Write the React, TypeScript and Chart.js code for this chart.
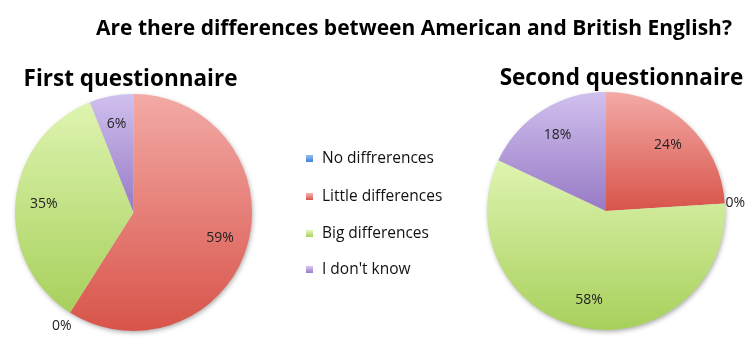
import React, { useEffect, useRef } from "react";
import { Chart, registerables } from "chart.js";

Chart.register(...registerables);

const mainTitle = "Are there differences between American and British English?";
const pieTitles = ["First questionnaire", "Second questionnaire"];
const categories = ["No diffrerences", "Little differences", "Big differences", "I don't know"];
const firstValues = [0, 59, 35, 6];
const secondValues = [0, 24, 58, 18];
// order in which the categories are drawn clockwise from 12 o'clock
const sliceOrder = [1, 0, 2, 3];
const lightColors = ["#8cb9ef", "#f3aaa6", "#def4b0", "#d0c0ee"];
const darkColors = ["#3f7fd4", "#d8544a", "#a8d05c", "#977ac5"];

const W = 747;
const H = 356;
const FONT = "'Open Sans', Lato, sans-serif";

function sliceGradient(ctx: any, idx: number) {
  const chart = ctx.chart;
  const area = chart.chartArea;
  const catIndex = sliceOrder[idx];
  if (!area) return darkColors[catIndex];
  const data: number[] = chart.data.datasets[0].data as number[];
  const total = data.reduce((a, b) => a + b, 0);
  const cx = (area.left + area.right) / 2;
  const cy = (area.top + area.bottom) / 2;
  const r = Math.min(area.right - area.left, area.bottom - area.top) / 2;
  let start = 0;
  for (let i = 0; i < idx; i++) start += (data[i] / total) * 360;
  const end = start + (data[idx] / total) * 360;
  const ys = [cy, cy - r * Math.cos((start * Math.PI) / 180), cy - r * Math.cos((end * Math.PI) / 180)];
  if (start <= 180 && end >= 180) ys.push(cy + r);
  if (end >= 359.9 || start <= 0.1) ys.push(cy - r);
  let y0 = Math.min(...ys);
  let y1 = Math.max(...ys);
  if (y1 - y0 < 1) y1 = y0 + 1;
  const g = chart.ctx.createLinearGradient(0, y0, 0, y1);
  g.addColorStop(0, lightColors[catIndex]);
  g.addColorStop(1, darkColors[catIndex]);
  return g;
}

const shadowPlugin = {
  id: "pieShadow",
  beforeDatasetsDraw(chart: any) {
    const meta = chart.getDatasetMeta(0);
    const arc = meta.data[0];
    if (!arc) return;
    const { x, y, outerRadius } = arc.getProps(["x", "y", "outerRadius"], true);
    const c = chart.ctx;
    c.save();
    c.shadowColor = "rgba(0,0,0,0.35)";
    c.shadowBlur = 5;
    c.shadowOffsetX = 1;
    c.shadowOffsetY = 2;
    c.fillStyle = "#ddd";
    c.beginPath();
    c.arc(x, y, outerRadius - 0.5, 0, Math.PI * 2);
    c.fill();
    c.restore();
  },
};

const labelPlugin = {
  id: "pieLabels",
  afterDatasetsDraw(chart: any) {
    const c = chart.ctx;
    const meta = chart.getDatasetMeta(0);
    const data: number[] = chart.data.datasets[0].data as number[];
    c.save();
    c.font = `14px ${FONT}`;
    c.fillStyle = "#222";
    c.textAlign = "center";
    c.textBaseline = "middle";
    meta.data.forEach((el: any, i: number) => {
      const p = el.getProps(["x", "y", "startAngle", "endAngle", "outerRadius"], true);
      const mid = (p.startAngle + p.endAngle) / 2;
      const text = `${data[i]}%`;
      const dx = Math.cos(mid);
      const dy = Math.sin(mid);
      let dist;
      if (data[i] === 0) {
        const w = c.measureText(text).width;
        dist = p.outerRadius + Math.abs(dx) * (w / 2) + Math.abs(dy) * 12;
      } else {
        dist = p.outerRadius * 0.76;
      }
      c.fillText(text, p.x + dx * dist, p.y + dy * dist);
    });
    c.restore();
  },
};

const textPlugin = {
  id: "pageText",
  afterDraw(chart: any) {
    const c = chart.ctx;
    c.save();
    c.fillStyle = "#000";
    c.textAlign = "center";
    c.textBaseline = "alphabetic";
    c.font = `bold 21px ${FONT}`;
    c.fillText(mainTitle, 414, 35);
    c.font = `bold 22.5px ${FONT}`;
    c.fillText(pieTitles[0], 130.5, 86);
    c.fillText(pieTitles[1], 621.5, 85);
    // legend
    const rows = [159, 197, 234, 270];
    c.textAlign = "left";
    c.textBaseline = "middle";
    c.font = `15.5px ${FONT}`;
    categories.forEach((cat, i) => {
      const y = rows[i];
      const g = c.createLinearGradient(0, y - 3, 0, y + 3);
      g.addColorStop(0, lightColors[i]);
      g.addColorStop(1, darkColors[i]);
      c.fillStyle = g;
      c.fillRect(306, y - 4, 7, 7);
      c.fillStyle = "#111";
      c.fillText(cat, 322, y);
    });
    c.restore();
  },
};

function makeConfig(values: number[], padding: any, extraPlugins: any[]) {
  const ordered = sliceOrder.map((i) => values[i]);
  return {
    type: "pie" as const,
    data: {
      labels: sliceOrder.map((i) => categories[i]),
      datasets: [
        {
          data: ordered,
          backgroundColor: (ctx: any) => sliceGradient(ctx, ctx.dataIndex),
          borderWidth: 0,
          hoverOffset: 0,
          offset: 0,
        },
      ],
    },
    options: {
      responsive: false,
      animation: false as const,
      layout: { padding },
      plugins: {
        legend: { display: false },
        tooltip: { enabled: false },
        title: { display: false },
      },
      events: [],
    },
    plugins: [shadowPlugin, labelPlugin, ...extraPlugins],
  };
}

export default function App() {
  const ref1 = useRef<HTMLCanvasElement>(null);
  const ref2 = useRef<HTMLCanvasElement>(null);

  useEffect(() => {
    document.body.style.margin = "0";
    document.body.style.background = "#fff";
    const c1 = new Chart(
      ref1.current!,
      makeConfig(firstValues, { left: 15, top: 94, right: W - 252, bottom: H - 331 }, [textPlugin]) as any
    );
    const c2 = new Chart(
      ref2.current!,
      makeConfig(secondValues, { left: 487, top: 92, right: W - 725, bottom: H - 330 }, []) as any
    );
    return () => {
      c1.destroy();
      c2.destroy();
    };
  }, []);

  return (
    <div style={{ position: "relative", width: W, height: H, background: "#fff" }}>
      <canvas ref={ref1} width={W} height={H} style={{ position: "absolute", left: 0, top: 0 }} />
      <canvas ref={ref2} width={W} height={H} style={{ position: "absolute", left: 0, top: 0 }} />
    </div>
  );
}
